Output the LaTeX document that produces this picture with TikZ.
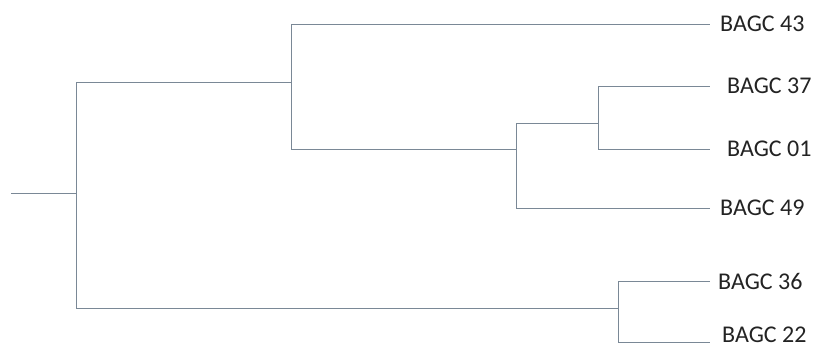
\documentclass[tikz,border=0pt]{standalone}
\usepackage{fontspec}
\setmainfont{Carlito}
\definecolor{branchcol}{RGB}{122,136,150}
\definecolor{labelcol}{RGB}{35,35,35}
\begin{document}
\begin{tikzpicture}[x=1pt,y=-1pt,
  branch/.style={draw=branchcol, line width=1pt},
  leaf/.style={anchor=west, inner sep=0pt, text=labelcol, font=\fontsize{24}{26}\selectfont}]
\useasboundingbox (0,0) rectangle (814,349);
% junction coordinates
\coordinate (root) at (11,193);
\coordinate (r) at (76,193);
\coordinate (rt) at (76,82);
\coordinate (rb) at (76,308);
\coordinate (a) at (291,82);
\coordinate (at) at (291,24);
\coordinate (ab) at (291,149);
\coordinate (b) at (516,149);
\coordinate (bt) at (516,123);
\coordinate (bb) at (516,208);
\coordinate (c) at (598,123);
\coordinate (ct) at (598,86);
\coordinate (cb) at (598,149);
\coordinate (d) at (618,308);
\coordinate (dt) at (618,281);
\coordinate (db) at (618,342);
% leaf ends
\coordinate (e43) at (710,24);
\coordinate (e37) at (710,86);
\coordinate (e01) at (710,149);
\coordinate (e49) at (710,208);
\coordinate (e36) at (710,281);
\coordinate (e22) at (710,342);
% labels
\node[leaf] (l43) at (720,24) {BAGC 43};
\node[leaf] (l37) at (727,86) {BAGC 37};
\node[leaf] (l01) at (727,149) {BAGC 01};
\node[leaf] (l49) at (720,208) {BAGC 49};
\node[leaf] (l36) at (718,281) {BAGC 36};
\node[leaf] (l22) at (722,335) {BAGC 22};
% branches
\draw[branch] (root) -- (r);
\draw[branch] (rt) -- (rb);
\draw[branch] (rt) -- (a);
\draw[branch] (rb) -- (d);
\draw[branch] (at) -- (ab);
\draw[branch] (at) -- (e43);
\draw[branch] (ab) -- (b);
\draw[branch] (bt) -- (bb);
\draw[branch] (bt) -- (c);
\draw[branch] (bb) -- (e49);
\draw[branch] (ct) -- (cb);
\draw[branch] (ct) -- (e37);
\draw[branch] (cb) -- (e01);
\draw[branch] (dt) -- (db);
\draw[branch] (dt) -- (e36);
\draw[branch] (db) -- (e22);
\end{tikzpicture}
\end{document}
